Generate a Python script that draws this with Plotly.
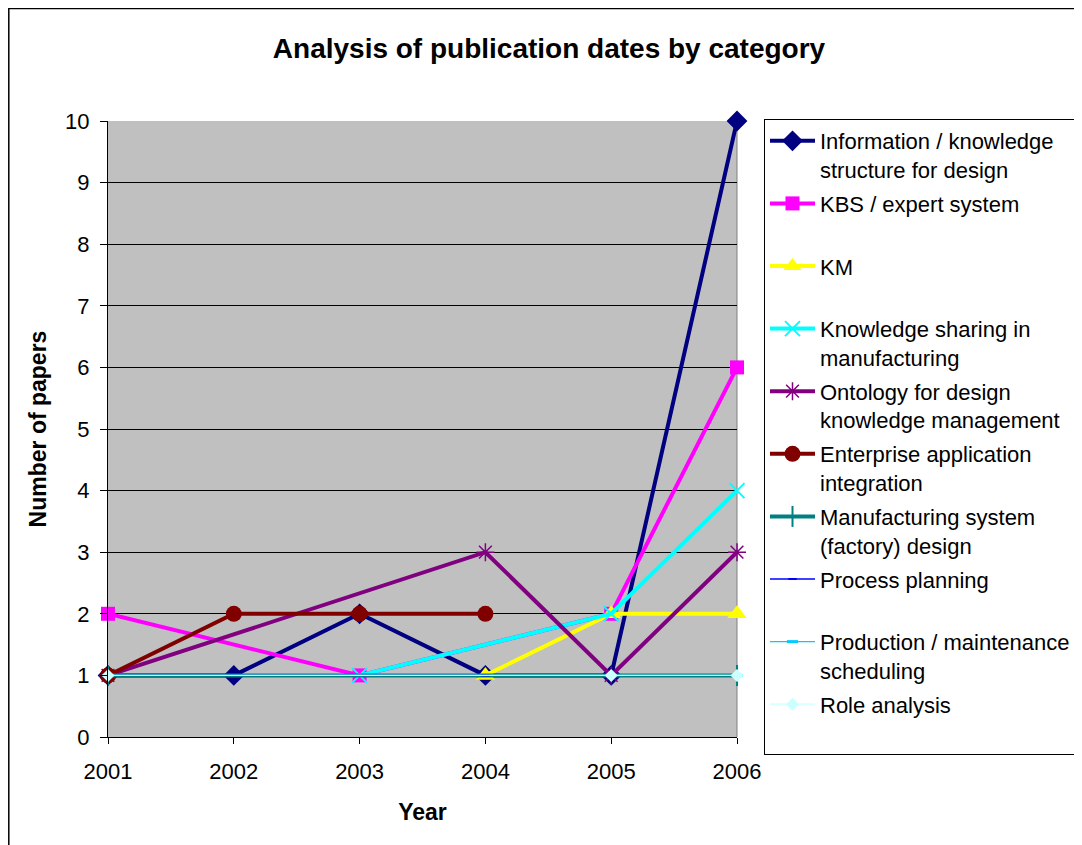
import plotly.graph_objects as go

years = [2001, 2002, 2003, 2004, 2005, 2006]

names = [
    "Information / knowledge<br>structure for design",
    "KBS / expert system<br> ",
    "KM<br> ",
    "Knowledge sharing in<br>manufacturing",
    "Ontology for design<br>knowledge management",
    "Enterprise application<br>integration",
    "Manufacturing system<br>(factory) design",
    "Process planning<br> ",
    "Production / maintenance<br>scheduling",
    "Role analysis<br> ",
]

info_structure = [1, 1, 2, 1, 1, 10]
kbs_expert = [2, None, 1, None, 2, 6]
km = [None, None, None, 1, 2, 2]
knowledge_sharing = [None, None, 1, None, 2, 4]
ontology = [1, None, None, 3, 1, 3]
enterprise_integration = [1, 2, 2, 2, None, None]
manufacturing_design = [1, None, None, None, None, 1]
process_planning = [1, None, None, 1, None, None]
production_scheduling = [1, None, None, None, None, 1]
role_analysis = [1, None, None, None, 1, 1]

series = [info_structure, kbs_expert, km, knowledge_sharing, ontology,
          enterprise_integration, manufacturing_design, process_planning,
          production_scheduling, role_analysis]

styles = [
    dict(color="#000080", width=4, symbol="diamond", size=16, mlw=0),
    dict(color="#FF00FF", width=4, symbol="square", size=14, mlw=0),
    dict(color="#FFFF00", width=4, symbol="triangle-up", size=17, mlw=0),
    dict(color="#00FFFF", width=4, symbol="x-thin-open", size=15, mlw=2),
    dict(color="#800080", width=4, symbol="asterisk-open", size=15, mlw=1.5),
    dict(color="#800000", width=4, symbol="circle", size=16, mlw=0),
    dict(color="#008080", width=4, symbol="line-ns-open", size=15, mlw=2),
    dict(color="#0000FF", width=1.3, symbol="line-ew-open", size=6, mlw=2),
    dict(color="#00CCFF", width=1.3, symbol="line-ew-open", size=8, mlw=3),
    dict(color="#CCFFFF", width=1.3, symbol="diamond", size=10, mlw=0),
]

fig = go.Figure()
for i, (nm, vals, st) in enumerate(zip(names, series, styles)):
    fig.add_trace(go.Scatter(
        x=years, y=vals, name=nm, mode="lines+markers",
        connectgaps=True, cliponaxis=False, legendgroup=str(i),
        line=dict(color=st["color"], width=st["width"]),
        marker=dict(symbol=st["symbol"], size=st["size"], color=st["color"],
                    line=dict(color=st["color"], width=st["mlw"])),
    ))

font_family = "Arial, Liberation Sans, sans-serif"

W, H = 1074, 837
L, R, T, B = 100, 345, 113, 108
PW, PH = W - L - R, H - T - B

fig.update_layout(
    width=W, height=H,
    margin=dict(l=L, r=R, t=T, b=B, autoexpand=False),
    paper_bgcolor="white",
    plot_bgcolor="#C0C0C0",
    font=dict(family=font_family, color="black", size=22),
    title=dict(text="<b>Analysis of publication dates by category</b>",
               x=541 / W, xanchor="center", y=1 - 40 / H, yanchor="middle",
               font=dict(size=28, family=font_family)),
    xaxis=dict(range=[2001, 2006], tickvals=years, ticktext=[str(y) for y in years],
               showgrid=False, zeroline=False, showline=True, linecolor="black",
               linewidth=1, ticks="outside", ticklen=6, tickcolor="black",
               tickfont=dict(size=22), ticklabelstandoff=9,
               title=dict(text="<b>Year</b>", font=dict(size=23), standoff=20)),
    yaxis=dict(range=[0, 10], dtick=1, showgrid=True, gridcolor="black", gridwidth=1,
               zeroline=False, showline=True, linecolor="black", linewidth=1,
               ticks="outside", ticklen=7, tickcolor="black",
               tickfont=dict(size=22), ticklabelstandoff=6,
               title=dict(text="<b>Number of papers</b>", font=dict(size=23), standoff=12)),
    legend=dict(x=(756 - L) / PW, y=(PH + 2) / PH,
                xanchor="left", yanchor="top",
                bordercolor="black", borderwidth=1, bgcolor="white",
                font=dict(size=22, family=font_family), valign="top",
                tracegroupgap=2.4, itemwidth=45, maxheight=800),
    showlegend=True,
)

# plot-area right border and outer chart border
fig.add_shape(type="line", xref="paper", yref="paper", x0=1, x1=1, y0=0, y1=1,
              line=dict(color="#808080", width=1), layer="below")
fig.add_shape(type="rect", xref="paper", yref="paper",
              x0=(0.8 - L) / PW, x1=(W + 20 - L) / PW,
              y0=-(B + 20) / PH, y1=(PH + T - 0.5) / PH,
              line=dict(color="black", width=1.5), layer="below")

fig.write_html("out.html")
